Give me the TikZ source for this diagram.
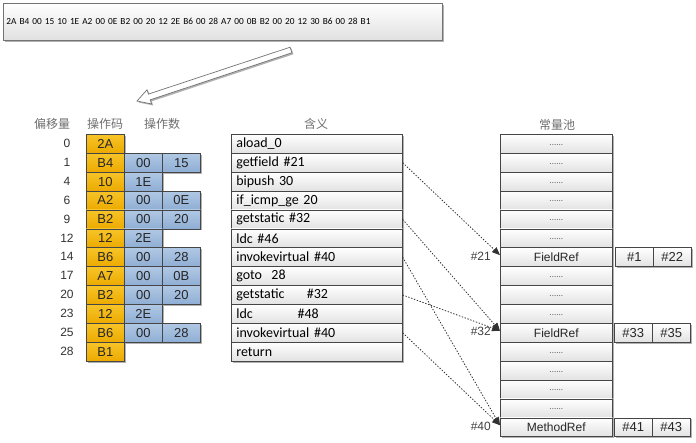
\documentclass[tikz,border=0pt]{standalone}
\usepackage{fontspec}
\setmainfont{Carlito}
\newfontfamily\arialf{Liberation Sans}
\newfontfamily\cjk{Noto Sans CJK SC}
\usetikzlibrary{arrows.meta,shadows}

\definecolor{opTop}{RGB}{247,196,40}
\definecolor{opBot}{RGB}{236,170,0}
\definecolor{argTop}{RGB}{176,200,228}
\definecolor{argBot}{RGB}{143,174,212}
\definecolor{cellline}{RGB}{70,70,70}
\definecolor{rowBot}{RGB}{226,226,226}
\definecolor{headgray}{RGB}{110,110,110}
\definecolor{refline}{RGB}{50,50,50}

\begin{document}
\begin{tikzpicture}[x=1pt,y=-1pt,
  shadowed/.style={drop shadow={shadow xshift=1.5pt,shadow yshift=-1.5pt,opacity=0.3,fill=black}},
  cell/.style={draw=cellline, line width=0.6pt, minimum height=18.9pt, inner sep=0pt,
    anchor=north west, shadowed},
  opcell/.style={cell, minimum width=38pt, top color=opTop, bottom color=opBot,
    font=\arialf\fontsize{13}{13}\selectfont, text=black!85},
  argcell/.style={cell, minimum width=38pt, top color=argTop, bottom color=argBot,
    font=\arialf\fontsize{13}{13}\selectfont, text=black!85},
  instr/.style={cell, text width=161pt, inner xsep=5pt, align=left, top color=white,
    bottom color=rowBot, font=\fontsize{14}{14}\selectfont},
  pool/.style={cell, minimum width=112pt, top color=white, bottom color=rowBot,
    font=\arialf\fontsize{12}{12}\selectfont, text=black!85},
  side/.style={cell, minimum width=38pt, top color=white, bottom color=rowBot,
    font=\arialf\fontsize{13}{13}\selectfont, text=black!85},
  head/.style={font=\cjk\fontsize{12}{12}\selectfont, text=headgray, inner sep=0pt},
  offs/.style={font=\arialf\fontsize{12}{12}\selectfont, text=black!80, inner sep=0pt},
  idx/.style={font=\arialf\fontsize{12}{12}\selectfont, text=black!75, inner sep=1pt, anchor=east},
  ref/.style={draw=refline, line width=0.8pt, dash pattern=on 1.4pt off 1.6pt,
    -{Triangle[length=8pt,width=6.5pt]}}
]
\useasboundingbox (0,0) rectangle (696,442);

% byte code strip
\node (code) [draw=black!55, line width=0.7pt, anchor=north west, text width=433pt,
  inner xsep=3pt, minimum height=37pt, align=left, top color=white, bottom color=black!12,
  shadowed, font=\fontsize{9.3}{9.3}\selectfont]
  at (3,3) {2A B4 00 15 10 1E A2 00 0E B2 00 20 12 2E B6 00 28 A7 00 0B B2 00 20 12 30 B6 00 28 B1};

% hollow arrow pointing down to the table
\draw[draw=black!55, line width=0.7pt, fill=white, shadowed, line join=miter]
  (137,101) -- (151.7,104.0) -- (150.3,99.8) -- (291.9,52.8) -- (290.1,47.2)
  -- (148.4,94.1) -- (147.0,89.8) -- cycle;

% column headings
\node[head] (hoff) at (52,124) {偏移量};
\node[head] (hop)  at (105,124) {操作码};
\node[head] (harg) at (162,124) {操作数};
\node[head] (hmean) at (316,124) {含义};
\node[head] (hpool) at (557,125) {常量池};

% offsets, opcodes and operands
\foreach \o/\c/\a/\b [count=\i from 0] in
  {0/2A//, 1/B4/00/15, 4/10/1E/, 6/A2/00/0E, 9/B2/00/20, 12/12/2E/,
   14/B6/00/28, 17/A7/00/0B, 20/B2/00/20, 23/12/2E/, 25/B6/00/28, 28/B1//}{
  \pgfmathsetmacro{\ry}{134+\i*18.9}
  \node[offs] (o\i) at (67,\ry+9.45) {\o};
  \node[opcell] (c\i) at (86,\ry) {\c};
  \if\relax\detokenize\expandafter{\a}\relax\else
    \node[argcell] (a\i) at (124,\ry) {\a};
  \fi
  \if\relax\detokenize\expandafter{\b}\relax\else
    \node[argcell] (b\i) at (162,\ry) {\b};
  \fi
}

% instruction meanings
\foreach \t [count=\i from 0] in
  {aload\_0, getfield \#21, bipush 30, if\_icmp\_ge 20, getstatic \#32, ldc \#46,
   invokevirtual \#40, goto\ \ 28, getstatic\hspace{1.6em}\#32, ldc\hspace{3.2em}\#48,
   invokevirtual \#40, return}{
  \node[instr] (m\i) at (231,134+\i*18.9) {\t};
}

% constant pool
\foreach \i in {0,...,15}{
  \node[pool] (p\i) at (500,134+\i*18.9) {};
}
\foreach \i in {0,1,2,3,4,5,7,8,9,11,12,13,14}{
  \node[font=\fontsize{9}{9}\selectfont, text=black!60, inner sep=0pt] (d\i)
    at ([yshift=-1pt]p\i.center) {......};
}
\node[font=\arialf\fontsize{12}{12}\selectfont, text=black!85] (t6) at (p6.center) {FieldRef};
\node[font=\arialf\fontsize{12}{12}\selectfont, text=black!85] (t10) at (p10.center) {FieldRef};
\node[font=\arialf\fontsize{12}{12}\selectfont, text=black!85] (t15) at (p15.center) {MethodRef};

% referenced entries
\node[side] (s6a) at (615,134+6*18.9) {\#1};
\node[side] (s6b) at (653,134+6*18.9) {\#22};
\node[side] (s10a) at (614,134+10*18.9) {\#33};
\node[side] (s10b) at (652,134+10*18.9) {\#35};
\node[side] (s15a) at (614,134+15*18.9) {\#41};
\node[side] (s15b) at (652,134+15*18.9) {\#43};

\node[idx] (i6) at ([xshift=-8pt,yshift=1pt]p6.west) {\#21};
\node[idx] (i10) at ([xshift=-8pt,yshift=1pt]p10.west) {\#32};
\node[idx] (i15) at ([xshift=-8pt,yshift=1pt]p15.west) {\#40};

% references from instructions into the pool
\draw[ref] (m1.east) -- ([yshift=2pt]p6.west);
\draw[ref] (m4.east) -- ([yshift=2pt]p10.west);
\draw[ref] (m8.east) -- ([yshift=2pt]p10.west);
\draw[ref] (m6.east) -- ([yshift=2pt]p15.west);
\draw[ref] (m10.east) -- ([yshift=2pt]p15.west);
\end{tikzpicture}
\end{document}
